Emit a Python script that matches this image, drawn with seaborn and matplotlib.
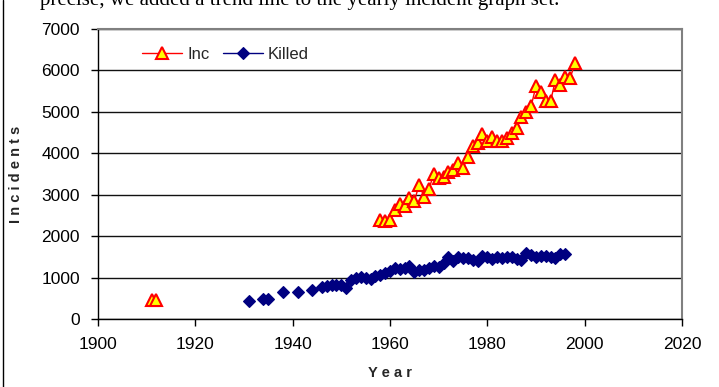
import matplotlib
matplotlib.use("Agg")
import matplotlib.pyplot as plt
from matplotlib.lines import Line2D
import pandas as pd
import seaborn as sns

# Yearly incident counts
inc_years = [1911, 1912,
             1958, 1959, 1960, 1961, 1962, 1963, 1964, 1965, 1966, 1967,
             1968, 1969, 1970, 1971, 1972, 1973, 1974, 1975, 1976, 1977,
             1978, 1979, 1980, 1981, 1982, 1983, 1984, 1985, 1986, 1987,
             1988, 1989, 1990, 1991, 1992, 1993, 1994, 1995, 1996, 1997,
             1998]
inc_values = [450, 450,
              2400, 2370, 2400, 2630, 2770, 2730, 2910, 2850, 3240, 2950,
              3140, 3500, 3400, 3430, 3550, 3600, 3770, 3650, 3900, 4180,
              4240, 4460, 4300, 4400, 4300, 4300, 4360, 4500, 4620, 4870,
              5000, 5140, 5620, 5480, 5250, 5260, 5770, 5650, 5850, 5810,
              6170]

# Yearly number killed
killed_years = [1931, 1934, 1935, 1938, 1941, 1944,
                1946, 1947, 1948, 1949, 1950, 1951, 1952, 1953, 1954, 1955,
                1956, 1957, 1958, 1959, 1960, 1961, 1962, 1963, 1964, 1965,
                1966, 1967, 1968, 1969, 1970, 1971, 1972, 1973, 1974, 1975,
                1976, 1977, 1978, 1979, 1980, 1981, 1982, 1983, 1984, 1985,
                1986, 1987, 1988, 1989, 1990, 1991, 1992, 1993, 1994, 1995,
                1996]
killed_values = [440, 480, 480, 640, 640, 700,
                 780, 800, 810, 820, 810, 760, 930, 990, 1010, 1000,
                 970, 1030, 1060, 1100, 1160, 1220, 1200, 1220, 1280, 1140,
                 1180, 1190, 1220, 1290, 1260, 1340, 1490, 1400, 1500, 1480,
                 1470, 1430, 1400, 1520, 1490, 1460, 1500, 1480, 1490, 1500,
                 1460, 1420, 1600, 1540, 1500, 1520, 1510, 1500, 1480, 1570,
                 1560]

x_ticks = [1900, 1920, 1940, 1960, 1980, 2000, 2020]
y_ticks = [0, 1000, 2000, 3000, 4000, 5000, 6000, 7000]

sns.set_theme(style="white")
plt.rcParams["font.family"] = ["Liberation Sans", "DejaVu Sans"]

fig = plt.figure(figsize=(7.19, 3.87), dpi=100)
ax = fig.add_axes([98 / 719, 68 / 387, 584 / 719, 290 / 387])


def runs(years, values):
    """Split a series into runs of consecutive years (gaps stay unjoined)."""
    df = pd.DataFrame({"year": years, "value": values})
    group = (df["year"].diff() != 1).cumsum()
    return [g for _, g in df.groupby(group)]


inc_style = dict(color="red", lw=1, marker="^", markersize=8,
                 markerfacecolor="yellow", markeredgecolor="red",
                 markeredgewidth=1.5)
killed_style = dict(color="#000080", lw=1, marker="D", markersize=6.5,
                    markerfacecolor="#000080", markeredgecolor="#000080",
                    markeredgewidth=0.8)

for seg in runs(killed_years, killed_values):
    sns.lineplot(data=seg, x="year", y="value", ax=ax, estimator=None,
                 sort=False, legend=False, **killed_style)
for seg in runs(inc_years, inc_values):
    sns.lineplot(data=seg, x="year", y="value", ax=ax, estimator=None,
                 sort=False, legend=False, **inc_style)

ax.set_xlim(1900, 2020)
ax.set_ylim(0, 7000)
ax.set_xticks(x_ticks)
ax.set_yticks(y_ticks)
ax.set_xticklabels([str(t) for t in x_ticks])
ax.set_yticklabels([str(t) for t in y_ticks])

ax.yaxis.grid(True, color="#111111", lw=1)
ax.xaxis.grid(False)
ax.set_axisbelow(True)

for side in ("left", "bottom"):
    ax.spines[side].set_color("black")
    ax.spines[side].set_linewidth(1)
for side in ("top", "right"):
    ax.spines[side].set_color("#808080")
    ax.spines[side].set_linewidth(1.5)

ax.tick_params(axis="both", which="major", direction="out", length=5,
               width=1, color="black", labelsize=12.5, labelcolor="black",
               bottom=True, left=True, pad=8)

ax.set_xlabel("Y e a r", fontsize=10.5, fontweight="bold", labelpad=10)
ax.set_ylabel("I n c i d e n t s", fontsize=10.5, fontweight="bold",
              labelpad=13)

handles = [Line2D([], [], **inc_style), Line2D([], [], **killed_style)]
ax.legend(handles, ["Inc", "Killed"], ncol=2, frameon=False,
          loc="upper left", bbox_to_anchor=(0.05, 0.99),
          fontsize=12, handlelength=2.4, handletextpad=0.3,
          columnspacing=0.8)

# Running text of the page above the chart, cut off at the top edge
fig.text(40 / 719, 1 - 4.5 / 387,
         "precise, we added a trend line to the yearly incident graph set.",
         family=["Liberation Serif", "DejaVu Serif"], fontsize=15,
         va="baseline", ha="left", color="black")

# Page frame edge on the left
fig.add_artist(Line2D([2.5 / 719, 2.5 / 719], [0, 1],
                      transform=fig.transFigure, color="black", lw=1))

fig.savefig("out.png", dpi=100)
